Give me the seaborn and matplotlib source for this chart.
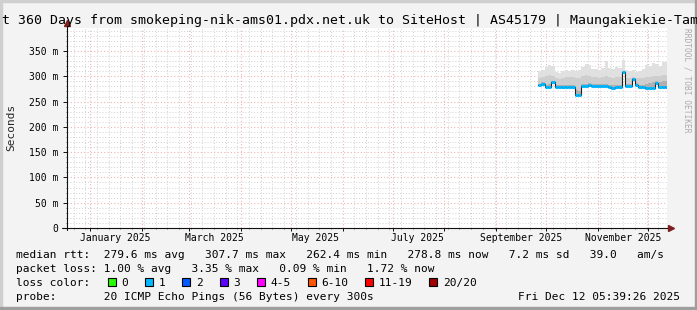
import matplotlib
matplotlib.use("Agg")
import matplotlib.pyplot as plt
import matplotlib.dates as mdates
import matplotlib.transforms as mtransforms
from matplotlib.patches import Rectangle
from matplotlib.ticker import MultipleLocator, NullFormatter, FixedLocator
import numpy as np
import pandas as pd
import seaborn as sns

# ---------------- data ----------------
title_text = "t 360 Days from smokeping-nik-ams01.pdx.net.uk to SiteHost | AS45179 | Maungakiekie-Tam"
view_start = "2024-12-18 00:00"
view_end = "2025-12-12 05:39:26"
data_start = "2025-09-26"
data_end = "2025-12-12 05:39:26"

median_ms = [282, 285, 279, 279, 289, 279, 279, 279, 279, 279,
             279, 263, 263, 281, 280, 282, 280, 280, 280, 280,
             280, 279, 277, 279, 279, 307.7, 280, 280, 294, 283,
             278, 278, 277, 277, 277, 286, 278, 278, 278]
smoke_max = [310, 312, 318, 322, 320, 308, 306, 310, 312, 311,
             312, 310, 312, 318, 325, 322, 314, 315, 312, 316,
             330, 316, 315, 318, 316, 333, 312, 310, 312, 308,
             310, 314, 322, 320, 326, 324, 320, 328, 328]
smoke_mid = [296, 298, 300, 302, 300, 296, 295, 297, 298, 298,
             298, 296, 297, 300, 302, 300, 298, 298, 297, 298,
             300, 298, 297, 298, 298, 310, 297, 296, 298, 296,
             296, 297, 298, 298, 300, 300, 300, 302, 302]
smoke_dark = [285, 289, 283, 284, 291, 283, 283, 283, 283, 283,
              283, 272, 270, 285, 284, 286, 284, 284, 284, 284,
              284, 283, 282, 283, 283, 309, 284, 284, 296, 286,
              283, 283, 285, 286, 288, 291, 289, 291, 291]

ytick_values = [0, 50, 100, 150, 200, 250, 300, 350]
ytick_labels = ["0", "50 m", "100 m", "150 m", "200 m", "250 m", "300 m", "350 m"]
month_labels = ["January 2025", "March 2025", "May 2025", "July 2025",
                "September 2025", "November 2025"]
month_label_dates = ["2025-01-16", "2025-03-16", "2025-05-16", "2025-07-16",
                     "2025-09-16", "2025-11-16"]

legend_rows = [
    "median rtt:  279.6 ms avg   307.7 ms max   262.4 ms min   278.8 ms now   7.2 ms sd   39.0   am/s",
    "packet loss: 1.00 % avg   3.35 % max   0.09 % min   1.72 % now",
    "loss color:",
    "probe:       20 ICMP Echo Pings (56 Bytes) every 300s",
]
loss_labels = ["0", "1", "2", "3", "4-5", "6-10", "11-19", "20/20"]
loss_colors = ["#26ff00", "#00b8ff", "#0059ff", "#5e00ff", "#ff00ff",
               "#ff5500", "#ff0000", "#a10000"]
timestamp_text = "Fri Dec 12 05:39:26 2025"
median_loss_index = 1

# ---------------- style ----------------
sns.set_theme(style="white")
plt.rcParams['font.family'] = ['DejaVu Sans Mono', 'DejaVu Sans']

W, H = 697, 310
fig = plt.figure(figsize=(W / 100, H / 100), dpi=100, facecolor="#f3f3f3")


def fx(px):
    return px / W


def fy(py):
    return 1 - py / H


# border shades
fig.patches.append(Rectangle((0, fy(2)), 1, fy(0) - fy(2), transform=fig.transFigure,
                             color="#cfcfcf", zorder=0))
fig.patches.append(Rectangle((0, 0), fx(2), 1, transform=fig.transFigure,
                             color="#cfcfcf", zorder=0))
fig.patches.append(Rectangle((0, 0), 1, fy(307) - 0, transform=fig.transFigure,
                             color="#9e9e9e", zorder=0))
fig.patches.append(Rectangle((fx(695), 0), 1 - fx(695), 1, transform=fig.transFigure,
                             color="#9e9e9e", zorder=0))

ax = fig.add_axes([fx(67), fy(228), fx(667) - fx(67), fy(28) - fy(228)])
ax.set_facecolor("white")

x0 = mdates.date2num(pd.Timestamp(view_start))
x1 = mdates.date2num(pd.Timestamp(view_end))
ax.set_xlim(x0, x1)
ax.set_ylim(0, 395.5)

# grid
mgrid = "#f0b4b4"
grid = "#d0d0d0"
ax.xaxis.set_major_locator(mdates.MonthLocator())
ax.xaxis.set_minor_locator(mdates.WeekdayLocator(byweekday=mdates.SU))
ax.xaxis.set_major_formatter(NullFormatter())
ax.yaxis.set_major_locator(FixedLocator(ytick_values))
ax.yaxis.set_minor_locator(MultipleLocator(10))
ax.set_yticklabels(ytick_labels)
ax.grid(which="minor", color=grid, linestyle=(0, (1, 2)), linewidth=0.7, zorder=0)
ax.grid(which="major", color=mgrid, linestyle=(0, (1, 2)), linewidth=0.8, zorder=0)
ax.set_axisbelow(True)

ax.tick_params(axis="y", which="major", length=3, width=0.7, color="#101010",
               pad=3, labelsize=7, labelcolor="black", left=True)
ax.tick_params(axis="y", which="minor", length=1.0, width=0.5, color="#404040", left=True)
ax.tick_params(axis="x", which="major", length=2.5, width=0.7, color="#101010", bottom=True)
ax.tick_params(axis="x", which="minor", length=1.0, width=0.5, color="#404040", bottom=True)
for s in ax.spines.values():
    s.set_visible(False)

# data
dates = pd.date_range(data_start, periods=len(median_ms), freq="2D")
edges = list(dates) + [pd.Timestamp(data_end)]
ex = mdates.date2num(pd.DatetimeIndex(edges))
med = np.array(median_ms + [median_ms[-1]], dtype=float)
smax = np.array(smoke_max + [smoke_max[-1]], dtype=float)
smid = np.array(smoke_mid + [smoke_mid[-1]], dtype=float)
sdark = np.array(smoke_dark + [smoke_dark[-1]], dtype=float)

ax.fill_between(ex, med, smax, step="post", color="#e0e0e0", lw=0, zorder=2)
ax.fill_between(ex, med, smid, step="post", color="#cecece", lw=0, zorder=2)
ax.fill_between(ex, med, sdark, step="post", color="#b0b0b0", lw=0, zorder=2)

df = pd.DataFrame({"t": ex, "median": med})
sns.lineplot(data=df, x="t", y="median", drawstyle="steps-post", color="#202020",
             lw=0.8, ax=ax, zorder=3)
ax.hlines(med[:-1], ex[:-1], ex[1:], color=loss_colors[median_loss_index], lw=2.2, zorder=4)
ax.set_xlabel("")
ax.set_ylabel("")

# axes lines with arrows
ax.plot([0, 0], [-0.012, 1.022], transform=ax.transAxes, color="#101010", lw=0.8,
        clip_on=False, zorder=5)
ax.plot([-0.008, 1.004], [0, 0], transform=ax.transAxes, color="#101010", lw=0.8,
        clip_on=False, zorder=5)
ax.plot([0], [1.025], marker="^", ms=4.5, color="#7f1f1f", transform=ax.transAxes,
        clip_on=False, zorder=6)
ax.plot([1.006], [0], marker=">", ms=4.5, color="#7f1f1f", transform=ax.transAxes,
        clip_on=False, zorder=6)

# month labels
trans = mtransforms.blended_transform_factory(ax.transData, ax.transAxes)
for lab, d in zip(month_labels, month_label_dates):
    ax.text(mdates.date2num(pd.Timestamp(d)), (228 - 241) / 200, lab, transform=trans,
            ha="center", va="baseline", fontsize=7, color="black")

# title and side texts
fig.text(fx(1.5), fy(24), title_text, ha="left", va="baseline", fontsize=9.55, color="black")
fig.text(fx(11), fy(127), "Seconds", rotation=90, ha="center", va="center", fontsize=8)
fig.text(fx(687), fy(28), "RRDTOOL / TOBI OETIKER", rotation=270, ha="center", va="top",
         fontsize=5.7, color="#ababab")

# legend
row_base = [258, 272, 286, 300]
for txt, yb in zip(legend_rows, row_base):
    fig.text(fx(16), fy(yb), txt, ha="left", va="baseline", fontsize=8, color="black")
fig.text(fx(680), fy(300), timestamp_text, ha="right", va="baseline", fontsize=8, color="black")

bx = 108.0
for lab, col in zip(loss_labels, loss_colors):
    fig.patches.append(Rectangle((fx(bx), fy(286)), fx(8), fy(278.3) - fy(286),
                                 transform=fig.transFigure, facecolor=col,
                                 edgecolor="black", lw=0.8, zorder=3))
    fig.text(fx(bx + 13.5), fy(286), lab, ha="left", va="baseline", fontsize=8, color="black")
    bx += 30.5 + len(lab) * 6.73

fig.savefig("out.png", dpi=100, facecolor=fig.get_facecolor())
